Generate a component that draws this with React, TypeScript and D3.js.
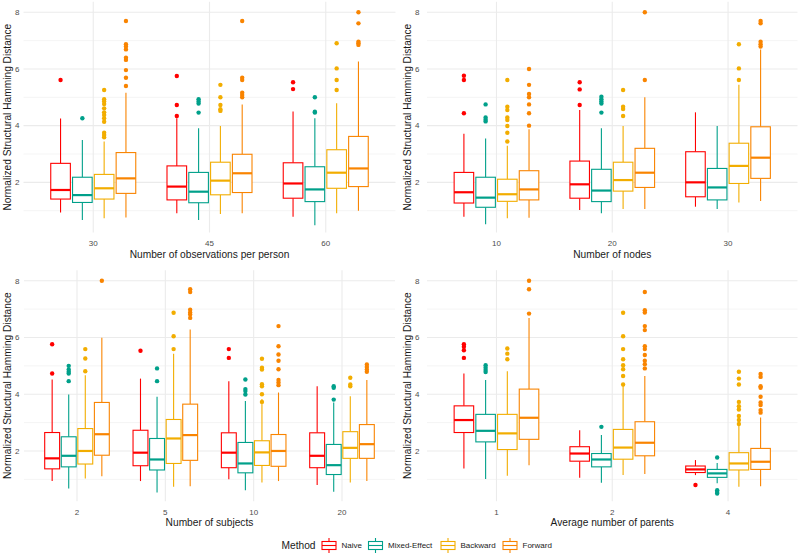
import React from "react";
import * as d3 from "d3";

const methods = ["Naive", "Mixed-Effect", "Backward", "Forward"];
const methodColors = ["#FF0000", "#00A08A", "#F2AD00", "#F98400"];

// each row: [lower whisker, Q1, median, Q3, upper whisker] for one level

// number of observations per person
const obsLevels = ["30", "45", "60"];
const obsNaive = [[0.94, 1.41, 1.73, 2.67, 4.25], [0.91, 1.38, 1.85, 2.58, 4.26], [0.79, 1.44, 1.96, 2.69, 4.5]];
const obsNaiveOut = [[5.61], [5.75, 4.73, 4.34], [5.53, 5.29]];
const obsMixed = [[0.67, 1.29, 1.55, 2.18, 3.49], [0.67, 1.28, 1.67, 2.35, 3.91], [0.49, 1.32, 1.75, 2.55, 4.26]];
const obsMixedOut = [[4.26], [4.93, 4.85, 4.78, 4.46], [5.0, 4.49, 4.46]];
const obsBackward = [[0.73, 1.41, 1.79, 2.28, 3.44], [0.88, 1.56, 2.06, 2.71, 3.99], [0.91, 1.79, 2.34, 3.15, 4.79]];
const obsBackwardOut = [
  [5.26, 4.93, 4.85, 4.76, 4.61, 4.47, 4.38, 4.26, 4.14, 3.75, 3.67, 3.59],
  [5.44, 5.0, 4.73, 4.58, 4.52],
  [6.91, 6.02, 5.61, 5.26],
];
const obsForward = [[0.76, 1.61, 2.14, 3.05, 5.16], [0.91, 1.64, 2.32, 2.99, 4.75], [1.0, 1.85, 2.49, 3.62, 6.26]];
const obsForwardOut = [
  [7.69, 6.87, 6.79, 6.69, 6.4, 6.32, 5.96, 5.69, 5.4],
  [7.69, 5.69, 5.61, 5.16, 5.08, 5.0],
  [8.0, 7.61, 6.96, 6.91, 6.85],
];

// number of nodes
const nodeLevels = ["10", "20", "30"];
const nodeNaive = [[0.79, 1.27, 1.65, 2.35, 3.71], [1.02, 1.44, 1.93, 2.75, 4.55], [1.14, 1.49, 2.0, 3.08, 4.47]];
const nodeNaiveOut = [[5.76, 5.61, 4.44], [5.53, 5.28, 4.73], []];
const nodeMixed = [[0.52, 1.12, 1.46, 2.18, 3.55], [0.91, 1.32, 1.71, 2.46, 3.91], [1.06, 1.38, 1.82, 2.49, 3.99]];
const nodeMixedOut = [[4.75, 4.29, 4.21, 4.15], [5.02, 4.93, 4.85, 4.78, 4.46], []];
const nodeBackward = [[0.73, 1.33, 1.58, 2.11, 3.29], [1.06, 1.69, 2.08, 2.71, 3.99], [1.29, 1.96, 2.58, 3.38, 5.44]];
const nodeBackwardOut = [[5.61, 4.67, 4.55, 4.29, 4.2, 3.99, 3.75, 3.44], [5.26, 4.67, 4.59, 4.34], [6.87, 6.02, 5.61]];
const nodeForward = [[0.75, 1.38, 1.75, 2.41, 3.87], [1.06, 1.82, 2.34, 3.2, 5.0], [1.34, 2.14, 2.87, 3.96, 6.69]];
const nodeForwardOut = [[6.0, 5.44, 5.12, 5.0, 4.75, 4.44, 4.0], [8.0, 5.61], [7.69, 7.61, 6.96, 6.87, 6.79]];

// number of subjects
const subjLevels = ["2", "5", "10", "20"];
const subjNaive = [[0.94, 1.37, 1.74, 2.65, 4.52], [0.94, 1.48, 1.94, 2.73, 4.55], [1.0, 1.41, 1.94, 2.64, 4.46], [0.8, 1.41, 1.83, 2.64, 4.28]];
const subjNaiveOut = [[5.76, 4.73], [5.53], [5.59, 5.28], []];
const subjMixed = [[0.68, 1.44, 1.83, 2.5, 3.99], [0.54, 1.33, 1.7, 2.44, 3.91], [0.62, 1.23, 1.56, 2.3, 3.76], [0.56, 1.17, 1.5, 2.23, 3.71]];
const subjMixedOut = [[5.0, 4.87, 4.79, 4.73, 4.46], [4.91, 4.46], [4.52, 4.18, 4.11, 3.99], [4.28, 4.23, 3.81]];
const subjBackward = [[1.03, 1.54, 2.0, 2.79, 4.67], [0.74, 1.56, 2.44, 3.11, 5.43], [0.89, 1.49, 1.95, 2.36, 3.83], [0.89, 1.74, 2.11, 2.68, 3.93]];
const subjBackwardOut = [[5.59, 5.26, 4.81], [6.87, 6.04, 5.59], [5.25, 4.93, 4.87, 4.35, 4.28, 4.0, 3.73], [4.58, 4.34, 4.28]];
const subjForward = [[1.11, 1.85, 2.59, 3.71, 5.99], [0.76, 1.67, 2.56, 3.65, 6.28], [0.94, 1.46, 2.0, 2.58, 4.06], [0.94, 1.74, 2.24, 2.93, 4.5]];
const subjForwardOut = [
  [8.0],
  [7.7, 7.6, 6.98, 6.88, 6.81, 6.69],
  [6.4, 5.69, 5.4, 5.18, 4.88, 4.5, 4.41, 4.32],
  [5.05, 4.96, 4.87, 4.79],
];

// average number of parents
const parentLevels = ["1", "2", "4"];
const parentNaive = [[1.38, 2.65, 3.09, 3.59, 4.73], [1.06, 1.64, 1.91, 2.15, 2.73], [1.15, 1.24, 1.35, 1.47, 1.68]];
const parentNaiveOut = [[5.76, 5.67, 5.55, 5.28], [], [0.8]];
const parentMixed = [[1.01, 2.32, 2.71, 3.29, 4.5], [0.88, 1.44, 1.7, 1.91, 2.56], [0.86, 1.07, 1.21, 1.35, 1.58]];
const parentMixedOut = [[5.02, 4.93, 4.85, 4.78], [2.85], [1.77, 0.62, 0.55, 0.5]];
const parentBackward = [[1.13, 2.05, 2.62, 3.29, 4.81], [1.15, 1.71, 2.12, 2.76, 4.38], [0.74, 1.33, 1.56, 1.94, 2.91]];
const parentBackwardOut = [
  [5.61, 5.43, 5.23],
  [6.87, 6.04, 5.59, 5.23, 5.02, 4.88, 4.64, 4.34],
  [4.79, 4.55, 4.34, 3.73, 3.58, 3.46, 3.23, 3.09, 2.95],
];
const parentForward = [[1.5, 2.41, 3.17, 4.18, 6.69], [1.19, 1.83, 2.29, 3.03, 4.64], [0.76, 1.35, 1.62, 2.09, 3.18]];
const parentForwardOut = [
  [8.0, 7.7, 6.84],
  [7.6, 6.96, 6.88, 6.4, 6.26, 5.69, 5.59, 5.38, 5.18, 5.06, 4.91],
  [4.71, 4.61, 4.28, 4.23, 3.91, 3.71, 3.62, 3.44, 3.35],
];

const yTicks = [2, 4, 6, 8];
const yMinor = [1, 3, 5, 7];
const yTitle = "Normalized Structural Hamming Distance";

const panels = [
  {
    title: "Number of observations per person",
    levels: obsLevels,
    stats: [obsNaive, obsMixed, obsBackward, obsForward],
    outliers: [obsNaiveOut, obsMixedOut, obsBackwardOut, obsForwardOut],
    x0: 23.5, x1: 395.5, y0: 232.5, y1: 1.8, ox: 0,
  },
  {
    title: "Number of nodes",
    levels: nodeLevels,
    stats: [nodeNaive, nodeMixed, nodeBackward, nodeForward],
    outliers: [nodeNaiveOut, nodeMixedOut, nodeBackwardOut, nodeForwardOut],
    x0: 427, x1: 797.5, y0: 232.5, y1: 1.8, ox: 400,
  },
  {
    title: "Number of subjects",
    levels: subjLevels,
    stats: [subjNaive, subjMixed, subjBackward, subjForward],
    outliers: [subjNaiveOut, subjMixedOut, subjBackwardOut, subjForwardOut],
    x0: 24, x1: 395, y0: 501.2, y1: 270.2, ox: 0,
  },
  {
    title: "Average number of parents",
    levels: parentLevels,
    stats: [parentNaive, parentMixed, parentBackward, parentForward],
    outliers: [parentNaiveOut, parentMixedOut, parentBackwardOut, parentForwardOut],
    x0: 427, x1: 797.5, y0: 501.2, y1: 270.2, ox: 400,
  },
];

const font = "'Liberation Sans', Arial, sans-serif";
const grid = "#EBEBEB";

function Panel({ p }: { p: (typeof panels)[number] }) {
  const x = d3.scalePoint<string>().domain(p.levels).range([p.x0, p.x1]).padding(0.6);
  const y = d3.scaleLinear().domain([0.23, 8.37]).range([p.y0, p.y1]);
  const step = x.step();
  const dodge = d3
    .scaleBand<string>()
    .domain(methods)
    .range([-0.375 * step, 0.375 * step])
    .paddingInner(0.1)
    .paddingOuter(0.05);
  const bw = dodge.bandwidth();

  return (
    <g>
      {yMinor.map((v) => (
        <line key={"mi" + v} x1={p.x0} x2={p.x1} y1={y(v)} y2={y(v)} stroke={grid} strokeWidth={0.55} />
      ))}
      {yTicks.map((v) => (
        <line key={"ma" + v} x1={p.x0} x2={p.x1} y1={y(v)} y2={y(v)} stroke={grid} strokeWidth={1.1} />
      ))}
      {p.levels.map((l) => (
        <line key={"v" + l} x1={x(l)} x2={x(l)} y1={p.y0} y2={p.y1} stroke={grid} strokeWidth={1.1} />
      ))}
      {yTicks.map((v) => (
        <text key={"t" + v} x={p.ox + 19.5} y={y(v)} dy="0.35em" textAnchor="end" fontSize={8} fill="#4D4D4D">
          {v}
        </text>
      ))}
      <text
        transform={`translate(${p.ox + 11},${(p.y0 + p.y1) / 2}) rotate(-90)`}
        textAnchor="middle"
        fontSize={10.2}
        fill="#1A1A1A"
      >
        {yTitle}
      </text>
      {p.levels.map((l) => (
        <text key={"xl" + l} x={x(l)} y={p.y0 + 10.8} dy="0.35em" textAnchor="middle" fontSize={8} fill="#4D4D4D">
          {l}
        </text>
      ))}
      <text x={(p.x0 + p.x1) / 2} y={p.y0 + 21.5} dy="0.35em" textAnchor="middle" fontSize={10.2} fill="#1A1A1A">
        {p.title}
      </text>
      {methods.map((m, mi) =>
        p.levels.map((l, li) => {
          const [lo, q1, med, q3, hi] = p.stats[mi][li];
          const cx = (x(l) as number) + (dodge(m) as number) - 0.375 * step * 0 + bw / 2;
          const col = methodColors[mi];
          return (
            <g key={m + l}>
              <line x1={cx} x2={cx} y1={y(hi)} y2={y(q3)} stroke={col} strokeWidth={1.1} />
              <line x1={cx} x2={cx} y1={y(q1)} y2={y(lo)} stroke={col} strokeWidth={1.1} />
              <rect
                x={cx - bw / 2}
                y={y(q3)}
                width={bw}
                height={y(q1) - y(q3)}
                fill="white"
                stroke={col}
                strokeWidth={1.1}
              />
              <line x1={cx - bw / 2} x2={cx + bw / 2} y1={y(med)} y2={y(med)} stroke={col} strokeWidth={2.2} />
              {p.outliers[mi][li].map((v, k) => (
                <circle key={k} cx={cx} cy={y(v)} r={2.2} fill={col} />
              ))}
            </g>
          );
        })
      )}
    </g>
  );
}

function Legend() {
  const keyX = [329, 375.5, 448, 510];
  const labelX = [341.5, 388, 460.5, 522.5];
  const cy = 545.5;
  return (
    <g>
      <text x={281.5} y={cy} dy="0.35em" fontSize={10.2} fill="#1A1A1A">
        Method
      </text>
      {methods.map((m, i) => (
        <g key={m}>
          <line x1={keyX[i]} x2={keyX[i]} y1={cy - 7.5} y2={cy + 7.5} stroke={methodColors[i]} strokeWidth={1.1} />
          <rect x={keyX[i] - 7} y={cy - 4} width={14} height={8} fill="white" stroke={methodColors[i]} strokeWidth={1.1} />
          <line x1={keyX[i] - 7} x2={keyX[i] + 7} y1={cy} y2={cy} stroke={methodColors[i]} strokeWidth={1.1} />
          <text x={labelX[i]} y={cy} dy="0.35em" fontSize={8} fill="#1A1A1A">
            {m}
          </text>
        </g>
      ))}
    </g>
  );
}

export default function App() {
  return (
    <svg width={800} height={555} style={{ position: "absolute", left: 0, top: 0, fontFamily: font }}>
      <rect width={800} height={555} fill="white" />
      {panels.map((p) => (
        <Panel key={p.title} p={p} />
      ))}
      <Legend />
    </svg>
  );
}
